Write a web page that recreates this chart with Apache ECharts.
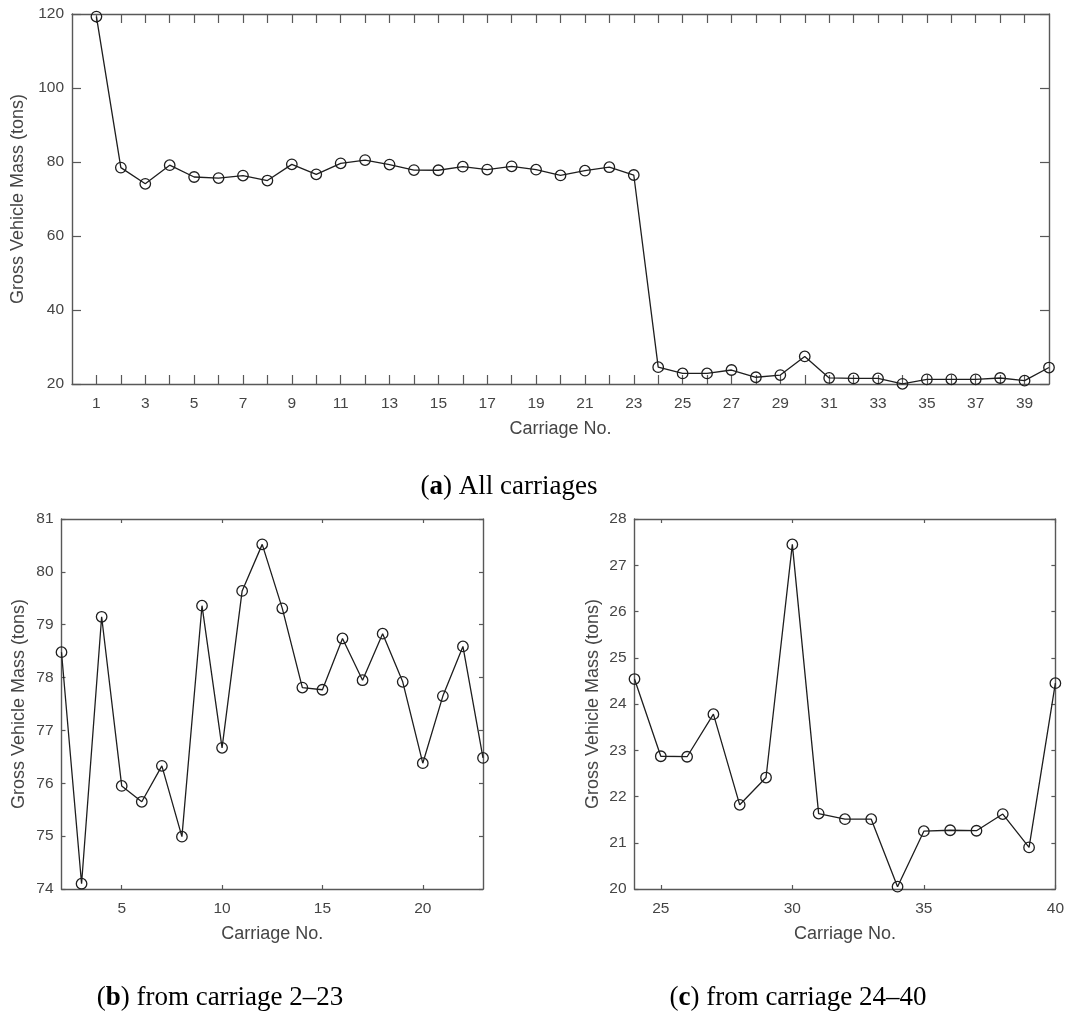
<!DOCTYPE html>
<html>
<head>
<meta charset="utf-8">
<script src="https://cdn.jsdelivr.net/npm/echarts@6/dist/echarts.min.js"></script>
<style>
  html, body { margin: 0; padding: 0; background: #ffffff; }
  #chart { width: 1067px; height: 1013px; }
</style>
</head>
<body>
<div id="chart"></div>
<script>
// Carriage numbers along the train and the gross vehicle mass of each (tons)
const carriageNo = [1, 2, 3, 4, 5, 6, 7, 8, 9, 10,
                    11, 12, 13, 14, 15, 16, 17, 18, 19, 20,
                    21, 22, 23, 24, 25, 26, 27, 28, 29, 30,
                    31, 32, 33, 34, 35, 36, 37, 38, 39, 40];
const grossMass = [119.3, 78.48, 74.10, 79.15, 75.95, 75.65, 76.33, 74.99, 79.36, 76.67,
                   79.64, 80.52, 79.31, 77.81, 77.77, 78.74, 77.95, 78.83, 77.92, 76.38,
                   77.65, 78.59, 76.48, 24.54, 22.87, 22.86, 23.78, 21.82, 22.41, 27.45,
                   21.63, 21.51, 21.51, 20.05, 21.25, 21.27, 21.26, 21.62, 20.90, 24.45];

// Tick positions / labels on the carriage axes
const allTicks = [1, 2, 3, 4, 5, 6, 7, 8, 9, 10, 11, 12, 13, 14, 15, 16, 17, 18, 19, 20,
                  21, 22, 23, 24, 25, 26, 27, 28, 29, 30, 31, 32, 33, 34, 35, 36, 37, 38, 39];
const allLabels = [1, 3, 5, 7, 9, 11, 13, 15, 17, 19, 21, 23, 25, 27, 29, 31, 33, 35, 37, 39];
const loadedTicks = [5, 10, 15, 20];
const emptyTicks = [25, 30, 35, 40];

// Panel captions
const captionA = ['a', ' All carriages'];
const captionB = ['b', ' from carriage 2\u201323'];
const captionC = ['c', ' from carriage 24\u201340'];

const AXIS_COLOR = '#585858';
const TEXT_COLOR = '#454545';
const LINE_COLOR = '#1e1e1e';
const SANS = "'Liberation Sans', Arial, sans-serif";
const SERIF = "'Liberation Serif', 'DejaVu Serif', serif";

function pairs(from, to) {
  const out = [];
  carriageNo.forEach((c, i) => { if (c >= from && c <= to) out.push([c, grossMass[i]]); });
  return out;
}

function xAxes(gridIndex, min, max, ticks, labels, tickLen, withName) {
  const base = {
    type: 'value', gridIndex, min, max,
    axisLine: { show: true, onZero: false, lineStyle: { color: AXIS_COLOR, width: 1.4 } },
    axisTick: { show: true, inside: true, length: tickLen, customValues: ticks,
                lineStyle: { color: AXIS_COLOR, width: 1.2 } },
    splitLine: { show: false }
  };
  return [
    Object.assign({}, base, {
      position: 'bottom',
      name: 'Carriage No.', nameLocation: 'middle', nameGap: 36,
      nameTextStyle: { fontFamily: SANS, fontSize: 18, color: TEXT_COLOR },
      axisLabel: { show: true, customValues: labels, margin: 12,
                   fontFamily: SANS, fontSize: 15.5, color: TEXT_COLOR }
    }),
    Object.assign({}, base, { position: 'top', axisLabel: { show: false } })
  ];
}

function yAxes(gridIndex, min, max, interval, tickLen, nameGap) {
  const base = {
    type: 'value', gridIndex, min, max, interval,
    axisLine: { show: true, onZero: false, lineStyle: { color: AXIS_COLOR, width: 1.4 } },
    axisTick: { show: true, inside: true, length: tickLen,
                lineStyle: { color: AXIS_COLOR, width: 1.2 } },
    splitLine: { show: false }
  };
  return [
    Object.assign({}, base, {
      position: 'left',
      name: 'Gross Vehicle Mass (tons)', nameLocation: 'middle', nameGap: nameGap,
      nameRotate: 90,
      nameTextStyle: { fontFamily: SANS, fontSize: 18, color: TEXT_COLOR },
      axisLabel: { show: true, margin: 8, fontFamily: SANS, fontSize: 15.5, color: TEXT_COLOR }
    }),
    Object.assign({}, base, { position: 'right', axisLabel: { show: false } })
  ];
}

function lineSeries(xIdx, yIdx, data) {
  return {
    type: 'line', xAxisIndex: xIdx, yAxisIndex: yIdx, data,
    clip: false, animation: false,
    symbol: 'circle', symbolSize: 10.5,
    itemStyle: { color: 'rgba(0,0,0,0)', borderColor: LINE_COLOR, borderWidth: 1.3 },
    lineStyle: { color: LINE_COLOR, width: 1.3 },
    emphasis: { disabled: true }
  };
}

function caption(x, y, parts) {
  return {
    type: 'text', x, y,
    style: {
      text: '{n|(}{b|' + parts[0] + '}{n|)' + parts[1] + '}',
      align: 'center', verticalAlign: 'middle',
      rich: {
        n: { fontFamily: SERIF, fontSize: 27, color: '#111' },
        b: { fontFamily: SERIF, fontSize: 27, fontWeight: 'bold', color: '#111' }
      }
    }
  };
}

const chart = echarts.init(document.getElementById('chart'), null, { renderer: 'canvas' });

chart.setOption({
  backgroundColor: '#ffffff',
  animation: false,
  grid: [
    { left: 72, top: 14, width: 977, height: 370 },
    { left: 61.5, top: 519, width: 421.5, height: 370 },
    { left: 634.5, top: 519, width: 421.5, height: 370 }
  ],
  xAxis: [].concat(
    xAxes(0, 0, 40, allTicks, allLabels, 9),
    xAxes(1, 2, 23, loadedTicks, loadedTicks, 4),
    xAxes(2, 24, 40, emptyTicks, emptyTicks, 4)
  ),
  yAxis: [].concat(
    yAxes(0, 20, 120, 20, 9, 43),
    yAxes(1, 74, 81, 1, 4, 33),
    yAxes(2, 20, 28, 1, 4, 32)
  ),
  series: [
    lineSeries(0, 0, pairs(1, 40)),
    lineSeries(2, 2, pairs(2, 23)),
    lineSeries(4, 4, pairs(24, 40))
  ],
  graphic: [
    caption(509, 487, captionA),
    caption(220, 998, captionB),
    caption(798, 998, captionC)
  ]
});
</script>
</body>
</html>
